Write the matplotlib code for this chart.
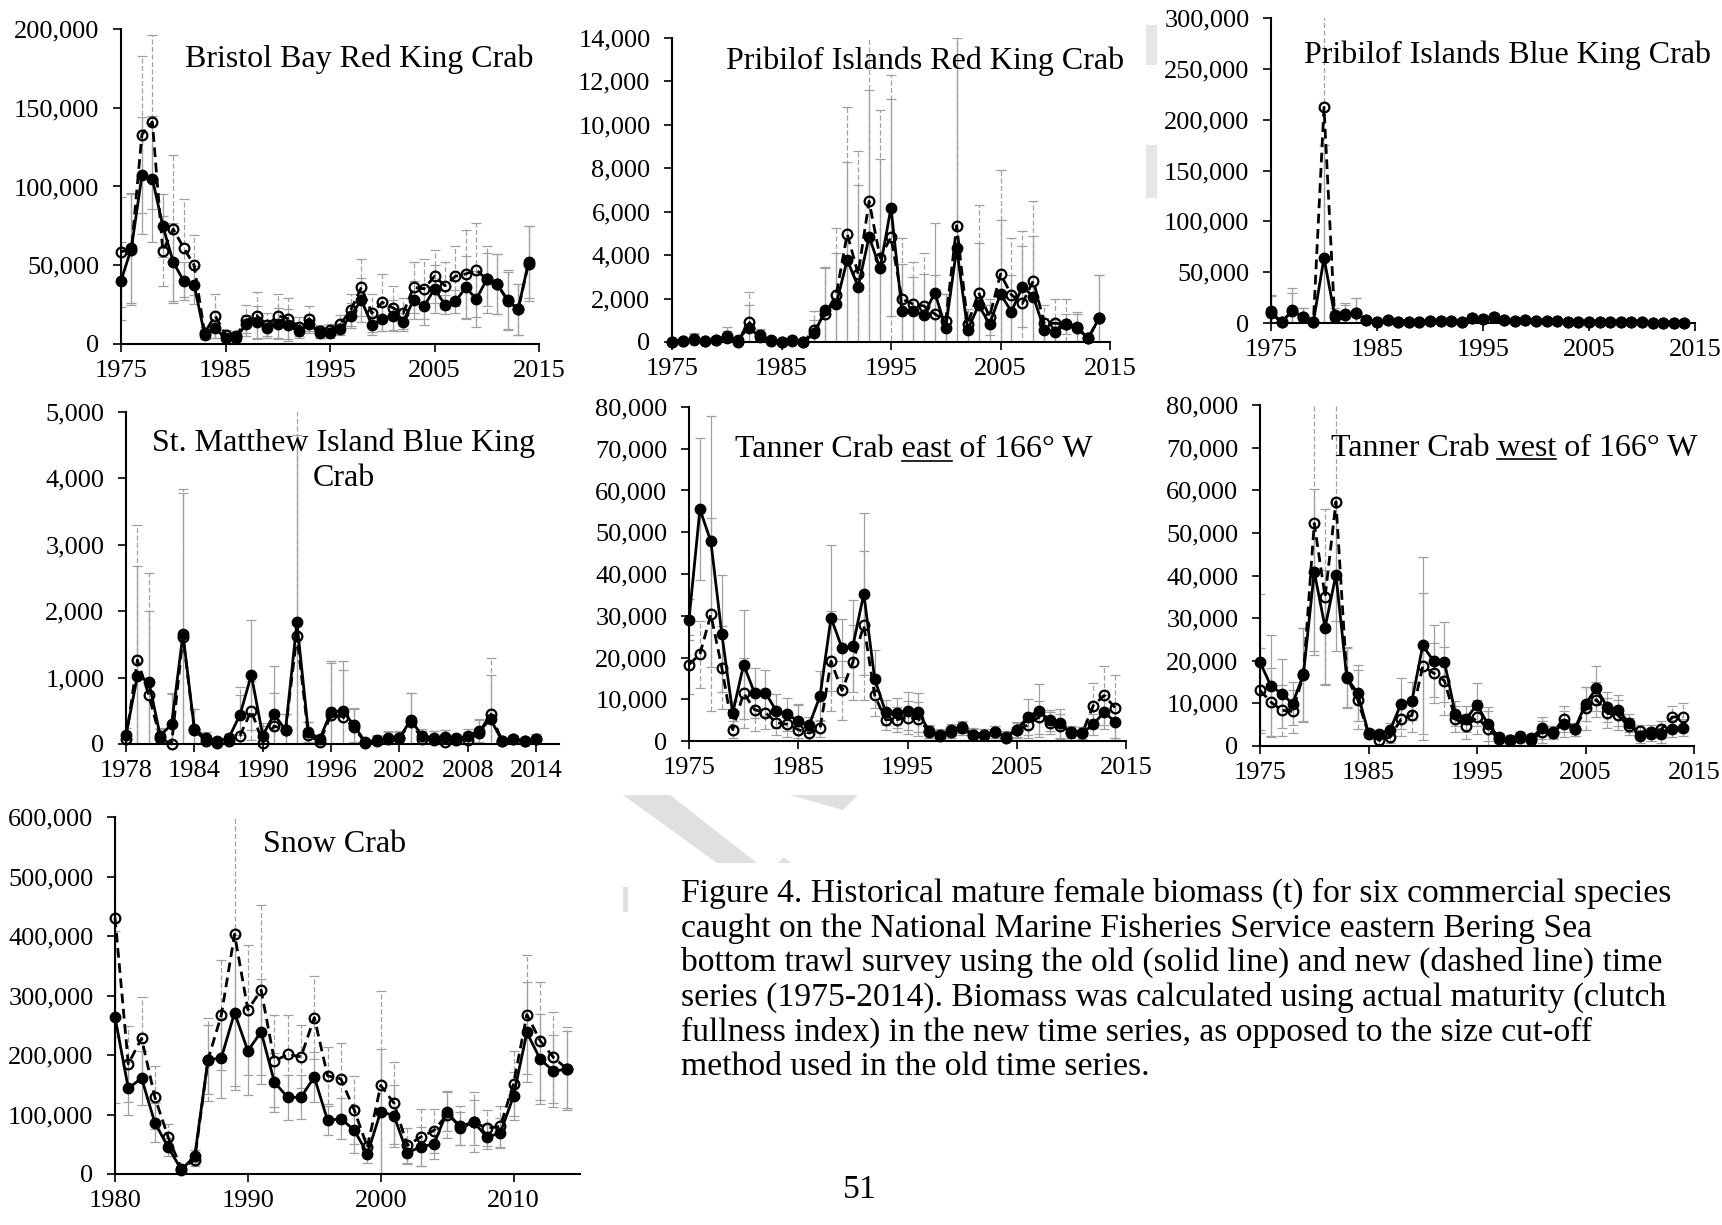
import numpy as np
import matplotlib
matplotlib.use('Agg')
import matplotlib.pyplot as plt
from matplotlib.ticker import FuncFormatter
from matplotlib.patches import Polygon
from matplotlib.lines import Line2D

# figure size in pixels (dpi 100)
W, H = 1722, 1225

# ---- data: mature female biomass (t), old (solid) and new (dashed) series ----
yrs75 = list(range(1975, 2015))
yrs78 = list(range(1978, 2015))
yrs80 = list(range(1980, 2015))

bb_old = [40000, 61000, 107000, 105000, 75000, 52000, 40000, 37500, 6000, 10000,
          3600, 4000, 12700, 14000, 10000, 13000, 12000, 8000, 12700, 7000,
          7000, 9500, 18000, 28000, 12000, 16000, 18000, 14000, 28000, 24000,
          35000, 25000, 27000, 36000, 28500, 41000, 38000, 27500, 22000, 52000]
bb_new = [58600, 60000, 133000, 141000, 59000, 73000, 61000, 50000, 7000, 18000,
          6000, 5000, 15000, 18000, 12000, 18000, 16000, 11000, 16000, 8000,
          9000, 12700, 21600, 36000, 19500, 26500, 23000, 19500, 36000, 35000,
          43000, 37000, 43000, 44500, 47000, 41000, 38000, 28000, 22000, 51000]
bb_err_old = [25000, 35000, 37000, 40000, 20000, 25000, 12000, 12000, 3000, 6000,
              2000, 2000, 6000, 10000, 5000, 10000, 10000, 4000, 6000, 3000,
              3000, 4000, 8000, 14000, 6000, 8000, 10000, 6000, 12000, 12000,
              15000, 6000, 7000, 20000, 18000, 17000, 19000, 18000, 16000, 23000]
bb_err_new = [35000, 35000, 50000, 55000, 22000, 47000, 31000, 19000, 4000, 14000,
              3000, 3000, 10000, 15000, 8000, 14000, 13000, 6000, 8000, 4000,
              4000, 6000, 10000, 18000, 12000, 18000, 14000, 10000, 16000, 19000,
              17000, 15000, 19000, 28000, 30000, 21000, 19000, 19000, 16000, 24000]

pr_old = [0, 60, 90, 60, 90, 200, 100, 660, 250, 90,
          0, 60, 0, 400, 1470, 1750, 3780, 2550, 4850, 3390,
          6190, 1440, 1440, 1240, 2270, 660, 4320, 550, 1700, 830,
          2210, 1400, 2550, 2090, 550, 460, 830, 680, 170, 1090]
pr_new = [0, 60, 120, 60, 90, 280, 0, 940, 320, 60,
          0, 90, 0, 550, 1290, 2180, 4980, 3130, 6480, 3890,
          4820, 1980, 1750, 1660, 1290, 980, 5360, 830, 2270, 1170,
          3130, 2170, 1780, 2830, 860, 860, 830, 630, 170, 1090]
pr_err_old = [0, 100, 300, 100, 150, 300, 150, 1040, 300, 150,
              0, 100, 0, 600, 1980, 2350, 4500, 4700, 6750, 5060,
              5000, 2160, 1560, 1900, 3230, 1540, 9700, 950, 2850, 870,
              3390, 1700, 1850, 2810, 550, 540, 470, 620, 130, 2010]
pr_err_new = [0, 100, 300, 100, 150, 400, 100, 1360, 300, 150,
              0, 100, 0, 900, 2110, 3070, 5820, 5670, 9000, 6810,
              7480, 2820, 1950, 2440, 1810, 1220, 10000, 270, 4030, 830,
              4770, 2630, 3320, 3670, 840, 1140, 1170, 770, 130, 2010]

pb_old = [11500, 500, 12500, 6000, 1300, 64000, 8000, 9000, 10000, 2600,
          700, 2600, 700, 700, 700, 2000, 2300, 1600, 1000, 5000,
          4300, 5600, 2600, 1600, 2600, 1600, 2000, 1600, 1300, 700,
          700, 1000, 700, 700, 700, 700, 300, 300, 300, 300]
pb_new = [10000, 500, 12000, 6000, 1000, 212000, 6000, 8000, 10000, 2600,
          700, 2600, 700, 700, 700, 2000, 2300, 1600, 1000, 5000,
          4300, 5600, 2600, 1600, 2600, 1600, 2000, 1600, 1300, 700,
          700, 1000, 700, 700, 700, 700, 300, 300, 300, 300]
pb_err_old = [16000, 1000, 22000, 9000, 1500, 111000, 7000, 11000, 15000, 2000,
              500, 1500, 500, 500, 500, 1500, 1500, 1200, 800, 4000,
              4000, 4500, 1500, 1000, 1500, 1000, 1200, 1000, 800, 500,
              500, 600, 500, 500, 500, 400, 200, 200, 200, 200]
pb_err_new = [17000, 1000, 18000, 9000, 1500, 150000, 6000, 10000, 15000, 2000,
              500, 1500, 500, 500, 500, 1500, 1500, 1200, 800, 4000,
              4000, 4500, 1500, 1000, 1500, 1000, 1200, 1000, 800, 500,
              500, 600, 500, 500, 500, 400, 200, 200, 200, 200]

sm_old = [136, 1025, 940, 126, 296, 1653, 226, 95, 45, 85,
          437, 1040, 126, 447, 211, 1830, 186, 75, 487, 497,
          286, 25, 60, 85, 95, 362, 120, 95, 110, 85,
          120, 196, 372, 50, 70, 45, 70]
sm_new = [70, 1266, 739, 85, 0, 1618, 211, 50, 20, 50,
          126, 503, 20, 271, 211, 1633, 136, 35, 437, 412,
          251, 20, 50, 70, 85, 337, 70, 60, 35, 60,
          60, 171, 452, 50, 70, 45, 70]
sm_err_old = [100, 1660, 1060, 100, 470, 2130, 300, 80, 40, 60,
              300, 830, 150, 730, 240, 2830, 150, 60, 760, 750,
              250, 30, 60, 90, 100, 410, 100, 100, 100, 60,
              100, 160, 660, 40, 50, 40, 80]
sm_err_new = [100, 2030, 1840, 150, 760, 2220, 310, 80, 40, 100,
              730, 450, 300, 500, 240, 3700, 200, 60, 780, 700,
              280, 30, 80, 120, 100, 430, 120, 140, 180, 80,
              120, 200, 850, 50, 60, 40, 80]

te_old = [29100, 55500, 47800, 25700, 6700, 18300, 11500, 11500, 7200, 6400,
          4800, 3800, 10800, 29500, 22300, 22700, 35300, 14800, 6900, 6700,
          7200, 6900, 2300, 1400, 2600, 3400, 1500, 1400, 2200, 1000,
          2700, 5700, 7300, 5000, 4200, 1800, 1800, 4000, 6900, 4600]
te_new = [18300, 20800, 30300, 17600, 2700, 11500, 7500, 6800, 4400, 4000,
          2700, 1900, 3000, 19100, 12100, 18900, 27700, 10900, 5100, 5100,
          5600, 5300, 2200, 1100, 2200, 3000, 1400, 1400, 2200, 800,
          2600, 3800, 5700, 4300, 3500, 2200, 1900, 8500, 10900, 8000]
te_err_old = [5000, 17000, 30000, 14000, 3000, 13000, 6000, 5500, 4000, 4000,
              4000, 2000, 6000, 17500, 7000, 11000, 19400, 7000, 3000, 3500,
              4500, 4700, 1500, 1500, 1500, 1500, 1500, 1500, 1500, 1500,
              1800, 4300, 6400, 2500, 3500, 1500, 1500, 2500, 4000, 4000]
te_err_new = [7000, 8000, 23000, 10000, 2000, 8500, 5000, 4000, 3000, 3000,
              6000, 2000, 2000, 12000, 7000, 9000, 17800, 5000, 2500, 3000,
              4000, 4000, 1500, 1500, 1500, 1500, 1500, 1500, 1500, 1500,
              1800, 3000, 4000, 2700, 3000, 1500, 1500, 5300, 7000, 7700]

tw_old = [19700, 14100, 12300, 9900, 16800, 40900, 27800, 40200, 16000, 12400,
          3000, 2700, 3800, 9900, 10500, 23600, 19900, 19700, 7600, 6400,
          9700, 5100, 2100, 1500, 2300, 1900, 4200, 3300, 5200, 3900,
          9900, 13500, 9200, 8400, 5400, 2300, 2700, 2700, 4100, 4300]
tw_new = [13100, 10300, 8400, 8100, 16600, 52200, 35000, 57300, 16200, 10900,
          2900, 1300, 2100, 6300, 7200, 18700, 17100, 15300, 6400, 4600,
          6700, 4100, 1700, 1300, 1900, 1300, 3300, 3100, 6400, 3900,
          8800, 10900, 7700, 7200, 4600, 3500, 3400, 3900, 6800, 6800]
tw_err_old = [16000, 12000, 8000, 5000, 11000, 19500, 13500, 18000, 7000, 6500,
              1000, 1000, 1500, 6000, 4500, 20800, 8400, 9300, 3000, 3000,
              5000, 4000, 1000, 1000, 1000, 1000, 2500, 1500, 3000, 1500,
              4000, 5200, 3500, 3600, 2000, 1500, 1500, 2000, 2000, 2000]
tw_err_new = [10000, 8000, 6000, 5000, 11000, 30000, 20500, 28000, 7000, 7000,
              1000, 1000, 1500, 4000, 4000, 17300, 7000, 8000, 3000, 3000,
              4000, 4000, 1000, 1000, 1000, 1000, 2500, 1500, 3000, 1500,
              5000, 4000, 3500, 3500, 2000, 1500, 1500, 2000, 2500, 3400]

sc_old = [264000, 144000, 161000, 86000, 45000, 7000, 30000, 192000, 195000, 271000,
          207000, 239000, 154000, 129000, 129000, 163000, 90000, 93000, 74000, 34000,
          105000, 98000, 35000, 46000, 50000, 105000, 77000, 87000, 62000, 69000,
          131000, 238000, 193000, 173000, 176000]
sc_new = [431000, 185000, 228000, 129000, 62000, 9000, 24000, 192000, 267000, 403000,
          276000, 309000, 190000, 201000, 197000, 263000, 165000, 160000, 108000, 45000,
          149000, 119000, 48000, 62000, 73000, 100000, 81000, 87000, 77000, 80000,
          152000, 268000, 224000, 196000, 177000]
sc_err_old = [144000, 45000, 45000, 33000, 15000, 5000, 10000, 58000, 67000, 130000,
              75000, 88000, 50000, 38000, 37000, 42000, 24000, 35000, 38000, 15000,
              105000, 52000, 18000, 33000, 25000, 32000, 28000, 38000, 20000, 25000,
              40000, 84000, 76000, 60000, 65000]
sc_err_new = [200000, 64000, 70000, 53000, 22000, 5000, 10000, 70000, 93000, 255000,
              109000, 143000, 77000, 66000, 53000, 70000, 48000, 60000, 57000, 15000,
              158000, 69000, 30000, 48000, 37000, 40000, 33000, 50000, 30000, 35000,
              55000, 100000, 99000, 76000, 70000]

caption_lines = [
    "Figure 4. Historical mature female biomass (t) for six commercial species",
    "caught on the National Marine Fisheries Service eastern Bering Sea",
    "bottom trawl survey using the old (solid line) and new (dashed line) time",
    "series (1975-2014). Biomass was calculated using actual maturity (clutch",
    "fullness index) in the new time series, as opposed to the size cut-off",
    "method used in the old time series.",
]

plt.rcParams['font.family'] = ['Liberation Serif', 'DejaVu Serif']
GREY = '#a0a0a0'
TITLE_FS = 23
CAPTION_FS = 24.2
TICK_FS = 19

fig = plt.figure(figsize=(W / 100, H / 100), dpi=100)


def fx(px):
    return px / W


def fy(py):
    return 1 - py / H


def wm_shape(pts, color='#e0e0e0'):
    # faint fragments of the page watermark
    fig.add_artist(Polygon([(fx(x), fy(y)) for x, y in pts], closed=True, facecolor=color,
                           edgecolor='none', transform=fig.transFigure, zorder=0))


wm_shape([(623, 795), (670, 795), (757, 863), (717, 863)])
wm_shape([(790, 795), (858, 795), (843, 810)])
wm_shape([(778, 863), (791, 863), (784, 857)])
wm_shape([(623, 887), (628, 887), (628, 912), (623, 912)])
wm_shape([(1146, 25), (1157, 25), (1157, 65), (1146, 65)], '#e6e6e6')
wm_shape([(1146, 145), (1157, 145), (1157, 198), (1146, 198)], '#e6e6e6')


def add_panel(box, years, old, new, err_old, err_new, ymax, ystep, xlim, xticks):
    l, t, r, b = box
    ax = fig.add_axes([fx(l), fy(b), (r - l) / W, (b - t) / H])
    ax.patch.set_alpha(0)
    eb = ax.errorbar(years, new, yerr=err_new, fmt='none', ecolor=GREY, elinewidth=0.9,
                     capsize=3.5, capthick=0.9, zorder=1)
    eb[2][0].set_linestyle((0, (4, 2)))
    ax.errorbar(years, old, yerr=err_old, fmt='none', ecolor=GREY, elinewidth=0.9,
                capsize=3.5, capthick=0.9, zorder=1)
    ax.plot(years, new, color='black', lw=2, ls=(0, (3.5, 2)), marker='o', ms=7,
            mfc='none', mec='black', mew=1.6, zorder=3, clip_on=False)
    ax.plot(years, old, color='black', lw=2, marker='o', ms=7.5, zorder=4, clip_on=False)
    ax.set_xlim(*xlim)
    ax.set_ylim(0, ymax)
    ax.set_xticks(xticks)
    ax.set_yticks(np.arange(0, ymax + 1, ystep))
    ax.yaxis.set_major_formatter(FuncFormatter(lambda v, p: f'{v:,.0f}'))
    for s in ['top', 'right']:
        ax.spines[s].set_visible(False)
    for s in ['left', 'bottom']:
        ax.spines[s].set_linewidth(1.5)
    ax.tick_params(direction='out', length=5.5, width=1.2, labelsize=TICK_FS)
    ax.tick_params(axis='y', pad=10)
    ax.tick_params(axis='x', pad=6)
    return ax


dec_ticks = [1975, 1985, 1995, 2005, 2015]
add_panel((121, 29, 539, 344), yrs75, bb_old, bb_new, bb_err_old, bb_err_new,
          200000, 50000, (1975, 2015), dec_ticks)
add_panel((672, 38, 1110, 342), yrs75, pr_old, pr_new, pr_err_old, pr_err_new,
          14000, 2000, (1975, 2015), dec_ticks)
add_panel((1271, 18, 1695, 323), yrs75, pb_old, pb_new, pb_err_old, pb_err_new,
          300000, 50000, (1975, 2015), dec_ticks)
add_panel((126, 412, 559, 744), yrs78, sm_old, sm_new, sm_err_old, sm_err_new,
          5000, 1000, (1978, 2016), list(range(1978, 2015, 6)))
add_panel((689, 407, 1126, 741), yrs75, te_old, te_new, te_err_old, te_err_new,
          80000, 10000, (1975, 2015), dec_ticks)
add_panel((1260, 405, 1694, 746), yrs75, tw_old, tw_new, tw_err_old, tw_err_new,
          80000, 10000, (1975, 2015), dec_ticks)
add_panel((115, 817, 580, 1174), yrs80, sc_old, sc_new, sc_err_old, sc_err_new,
          600000, 100000, (1980, 2015), [1980, 1990, 2000, 2010])

# panel titles (x centre, baseline y in pixels)
titles = [
    (359, 67, "Bristol Bay Red King Crab"),
    (925, 69, "Pribilof Islands Red King Crab"),
    (1507, 63, "Pribilof Islands Blue King Crab"),
    (344, 451, "St. Matthew Island Blue King"),
    (344, 486, "Crab"),
    (335, 852, "Snow Crab"),
]
for x, y, s in titles:
    fig.text(fx(x), fy(y), s, ha='center', va='baseline', fontsize=TITLE_FS, zorder=5)

renderer = fig.canvas.get_renderer()


def underlined_title(x, y, before, word, after):
    t = fig.text(fx(x), fy(y), before + word + after, ha='center', va='baseline',
                 fontsize=TITLE_FS, zorder=5)
    bb = t.get_window_extent(renderer=renderer)
    tmp = fig.text(0, 0, before + word, fontsize=TITLE_FS)
    w2 = tmp.get_window_extent(renderer=renderer).width
    tmp.remove()
    tmp = fig.text(0, 0, word, fontsize=TITLE_FS)
    we = tmp.get_window_extent(renderer=renderer).width
    tmp.remove()
    x1 = bb.x0 + w2 - we
    x2 = bb.x0 + w2
    yl = (H - y) - 3.5
    fig.add_artist(Line2D([x1 / W, x2 / W], [yl / H, yl / H], color='black', lw=1.2,
                          transform=fig.transFigure))


underlined_title(914, 457, "Tanner Crab ", "east", " of 166\u00b0 W")
underlined_title(1514, 456, "Tanner Crab ", "west", " of 166\u00b0 W")

# caption
for i, line in enumerate(caption_lines):
    fig.text(fx(681), fy(902 + i * 34.6), line, ha='left', va='baseline', fontsize=CAPTION_FS)
fig.text(fx(843), fy(1198), "51", ha='left', va='baseline', fontsize=CAPTION_FS)

fig.savefig('out.png', dpi=100)
